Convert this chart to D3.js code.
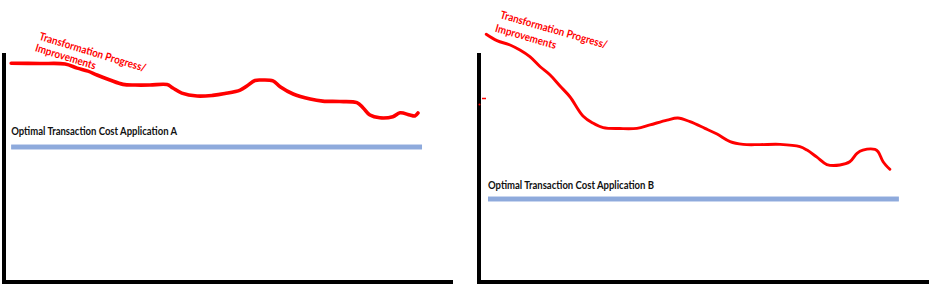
<!DOCTYPE html>
<html>
<head>
<meta charset="utf-8">
<script src="https://cdn.jsdelivr.net/npm/d3@7"></script>
<style>
  body { margin: 0; background: #fff; }
  svg { display: block; }
</style>
</head>
<body>
<svg id="chart" width="930" height="285"></svg>
<script>
// progress curves (time 0-100, cost 0-100)
var progressA_x = [1.6, 8.0, 13.6, 16.3, 18.7, 20.7, 23.6, 26.5, 29.2, 32.5, 36.3, 37.6, 39.6, 43.0, 46.5, 49.2, 52.6, 54.1, 55.9, 57.5, 59.9, 61.5, 64.4, 68.2, 71.0, 74.8, 78.6, 80.0, 81.5, 83.7, 86.6, 88.2, 90.4, 91.5, 92.2];
var progressA_y = [95.5, 95.4, 95.2, 93.4, 92.1, 90.4, 88.2, 86.3, 86.0, 86.0, 86.2, 84.7, 82.5, 81.2, 81.5, 82.3, 83.8, 85.6, 88.0, 88.2, 87.8, 85.3, 82.1, 79.9, 79.0, 78.8, 78.3, 76.0, 72.9, 71.7, 72.2, 73.9, 72.9, 72.5, 73.8];

var progressB_x = [1.6, 4.0, 6.9, 9.1, 11.3, 13.6, 15.8, 18.0, 20.2, 23.1, 25.3, 27.6, 31.3, 35.1, 38.0, 41.8, 44.2, 46.9, 50.2, 52.9, 55.8, 58.7, 62.4, 66.9, 71.3, 72.9, 75.1, 77.3, 80.2, 82.4, 84.0, 85.3, 88.0, 88.7, 89.8, 91.3];
var progressB_y = [108.2, 105.4, 103.5, 101.3, 98.4, 94.0, 90.4, 85.6, 80.9, 72.5, 69.4, 67.4, 67.0, 67.1, 68.6, 70.7, 71.6, 70.0, 67.1, 64.6, 61.3, 60.1, 60.0, 60.1, 59.1, 57.6, 54.5, 51.3, 51.1, 52.5, 56.2, 57.6, 57.9, 56.9, 52.5, 49.2];

// optimal cost targets
var targetNames = ["Optimal Transaction Cost Application A", "Optimal Transaction Cost Application B"];
var targetCost = [59.0, 36.2];
var targetSpan = [[1.6, 93.1], [2.0, 93.3]];
var labelCost = [64.3, 40.5];

var curveLabel = ["Transformation Progress/", "Improvements"];

var svg = d3.select("#chart");

var panels = [
  { x0: 4, x1: 453, xs: progressA_x, ys: progressA_y, lw: 3.6,
    t1: [38.5, 39.5], t2: [34.5, 51], rot: 17 },
  { x0: 479, x1: 929, xs: progressB_x, ys: progressB_y, lw: 2.9,
    t1: [499.5, 18], t2: [494.5, 31.5], rot: 16 }
];

var y = d3.scaleLinear().domain([0, 100]).range([282, 53]);

panels.forEach(function(p, i) {
  var x = d3.scaleLinear().domain([0, 100]).range([p.x0, p.x1]);
  var g = svg.append("g");

  // axes (hand drawn style, thick black)
  g.append("line")
    .attr("x1", x(0)).attr("x2", x(0))
    .attr("y1", y(100)).attr("y2", y(0) + 2)
    .attr("stroke", "#000").attr("stroke-width", 4);
  g.append("line")
    .attr("x1", x(0) - 2).attr("x2", x(100))
    .attr("y1", y(0)).attr("y2", y(0))
    .attr("stroke", "#000").attr("stroke-width", 4);

  // target line
  var ty = y(targetCost[i]);
  g.append("line")
    .attr("x1", x(targetSpan[i][0])).attr("x2", x(targetSpan[i][1]))
    .attr("y1", ty).attr("y2", ty)
    .attr("stroke", "#c9d6ef").attr("stroke-width", 6);
  g.append("line")
    .attr("x1", x(targetSpan[i][0])).attr("x2", x(targetSpan[i][1]))
    .attr("y1", ty).attr("y2", ty)
    .attr("stroke", "#8eaadc").attr("stroke-width", 4);

  g.append("text")
    .attr("x", x(targetSpan[i][0])).attr("y", y(labelCost[i]))
    .attr("font-family", "Lato, sans-serif")
    .attr("font-weight", "bold").attr("font-size", 11)
    .attr("textLength", 166).attr("lengthAdjust", "spacingAndGlyphs")
    .attr("fill", "#111")
    .text(targetNames[i]);

  // progress curve
  var pts = p.xs.map(function(d, k) { return [d, p.ys[k]]; });
  var line = d3.line()
    .x(function(d) { return x(d[0]); })
    .y(function(d) { return y(d[1]); })
    .curve(d3.curveCatmullRom);
  g.append("path")
    .datum(pts)
    .attr("d", line)
    .attr("fill", "none")
    .attr("stroke", "#ff0000")
    .attr("stroke-width", p.lw)
    .attr("stroke-linecap", "round")
    .attr("stroke-linejoin", "round");

  // red annotation
  [p.t1, p.t2].forEach(function(pos, k) {
    g.append("text")
      .attr("transform", "translate(" + pos[0] + "," + pos[1] + ") rotate(" + p.rot + ")")
      .attr("font-family", "Lato, sans-serif")
      .attr("font-weight", "bold").attr("font-size", 11)
      .attr("textLength", k === 0 ? 111 : 63).attr("lengthAdjust", "spacingAndGlyphs")
      .attr("fill", "#ff0000")
      .text(curveLabel[k]);
  });
});

// stray red tick on the right axis
svg.append("line")
  .attr("x1", 482).attr("x2", 486).attr("y1", 98.5).attr("y2", 98.5)
  .attr("stroke", "#ff0000").attr("stroke-width", 1.5);
svg.append("circle")
  .attr("cx", 479.5).attr("cy", 104.5).attr("r", 1)
  .attr("fill", "#ff0000");
</script>
</body>
</html>
